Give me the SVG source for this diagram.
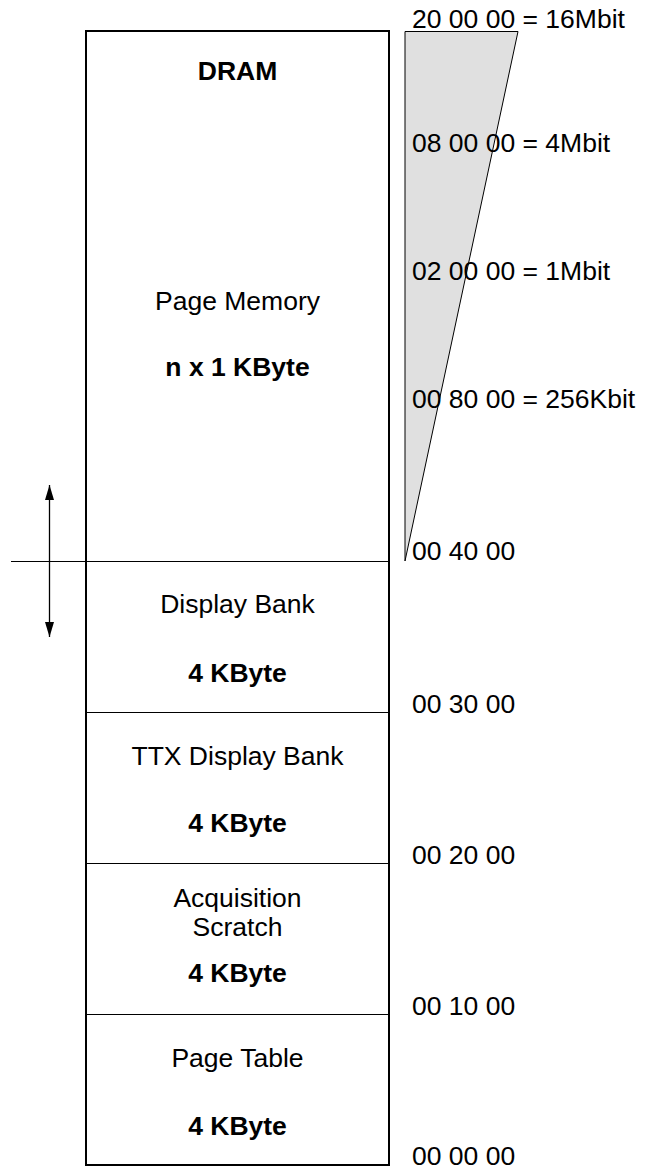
<svg xmlns="http://www.w3.org/2000/svg" width="650" height="1169" viewBox="0 0 650 1169">
<style>
text{font-family:"Liberation Sans",Arial,sans-serif;font-size:26.5px;fill:#000}
.c{text-anchor:middle}
.b{font-weight:bold}
.div{stroke:#000;stroke-width:1;fill:none}
</style>
<defs>
<marker id="ah" viewBox="0 0 10 10" refX="10" refY="5" markerWidth="15" markerHeight="9" markerUnits="userSpaceOnUse" orient="auto" preserveAspectRatio="none">
<path d="M0,0 L10,5 L0,10 z" fill="#000"/>
</marker>
</defs>
<rect width="650" height="1169" fill="#fff"/>
<g id="wedge">
<polygon points="405,31.5 518,31.5 405,561" fill="#e0e0e0" stroke="#000" stroke-width="1"/>
</g>
<g id="dram">
<rect x="86" y="31" width="303" height="1134" fill="none" stroke="#000" stroke-width="2"/>
<text class="c b" x="237.5" y="80">DRAM</text>
</g>
<g id="page-memory">
<text class="c" x="237.5" y="310">Page Memory</text>
<text class="c b" x="237.5" y="376">n x 1 KByte</text>
</g>
<g id="display-bank">
<line class="div" x1="11" y1="561.5" x2="389" y2="561.5"/>
<text class="c" x="237.5" y="613">Display Bank</text>
<text class="c b" x="237.5" y="682">4 KByte</text>
</g>
<g id="ttx-display-bank">
<line class="div" x1="86" y1="712.5" x2="389" y2="712.5"/>
<text class="c" x="237.5" y="765">TTX Display Bank</text>
<text class="c b" x="237.5" y="832">4 KByte</text>
</g>
<g id="acquisition-scratch">
<line class="div" x1="86" y1="863.5" x2="389" y2="863.5"/>
<text class="c" x="237.5" y="907">Acquisition</text>
<text class="c" x="237.5" y="936">Scratch</text>
<text class="c b" x="237.5" y="982">4 KByte</text>
</g>
<g id="page-table">
<line class="div" x1="86" y1="1014.5" x2="389" y2="1014.5"/>
<text class="c" x="237.5" y="1067">Page Table</text>
<text class="c b" x="237.5" y="1135">4 KByte</text>
</g>
<g id="connectors">
<line x1="49.5" y1="561" x2="49.5" y2="485" stroke="#000" stroke-width="1.3" marker-end="url(#ah)"/>
<line x1="49.5" y1="561" x2="49.5" y2="637" stroke="#000" stroke-width="1.3" marker-end="url(#ah)"/>
</g>
<g id="addresses">
<text x="412" y="28">20 00 00 = 16Mbit</text>
<text x="412" y="152">08 00 00 = 4Mbit</text>
<text x="412" y="280">02 00 00 = 1Mbit</text>
<text x="412" y="408">00 80 00 = 256Kbit</text>
<text x="412" y="560">00 40 00</text>
<text x="412" y="713">00 30 00</text>
<text x="412" y="864">00 20 00</text>
<text x="412" y="1015">00 10 00</text>
<text x="412" y="1165">00 00 00</text>
</g>
</svg>
